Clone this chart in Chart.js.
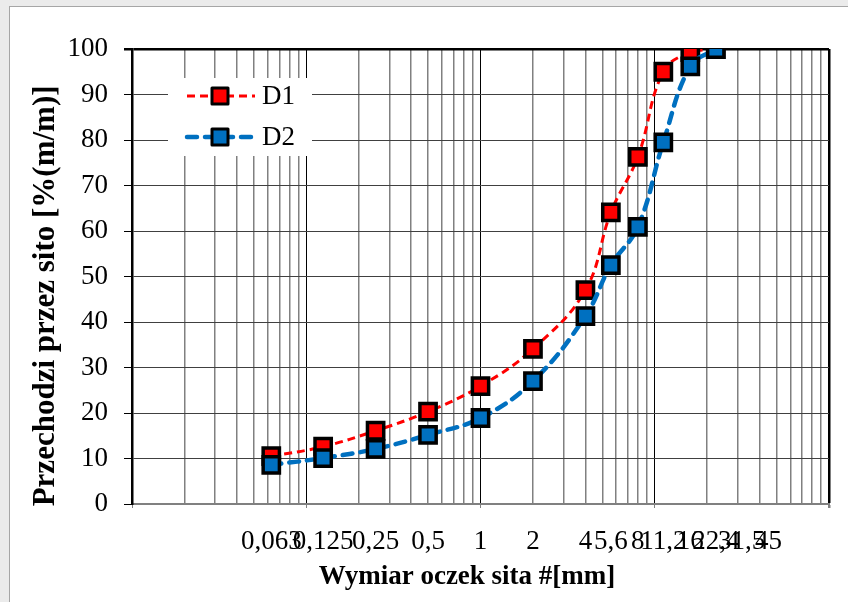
<!DOCTYPE html>
<html>
<head>
<meta charset="utf-8">
<script src="https://cdn.jsdelivr.net/npm/chart.js@4.4.1/dist/chart.umd.min.js"></script>
<style>
  html, body { margin: 0; padding: 0; background: #ebebeb; overflow: hidden; }
  #panel { position: absolute; left: 9px; top: 6px; width: 900px; height: 700px; background: #fff;
           border-left: 1px solid #a6a6a6; border-top: 1px solid #a6a6a6; }
  #grading { position: absolute; left: 0; top: 0; }
</style>
</head>
<body>
<div id="panel"></div>
<canvas id="grading" width="848" height="602"></canvas>
<script>
// sieve sizes [mm] and passing percentages
var sieveSizes = [0.063, 0.125, 0.25, 0.5, 1, 2, 4, 5.6, 8, 11.2, 16, 22.4];
var passD1 = [10.5, 12.6, 16.1, 20.3, 25.9, 34.1, 47.0, 64.1, 76.3, 95.0, 99.3, 100];
var passD2 = [8.6, 10.1, 12.1, 15.2, 18.9, 27.0, 41.3, 52.5, 60.9, 79.5, 96.2, 100];

// labels printed under the x axis
var xLabelValues = [0.063, 0.125, 0.25, 0.5, 1, 2, 4, 5.6, 8, 11.2, 16, 22.4, 31.5, 45];
var xLabelTexts = ['0,063', '0,125', '0,25', '0,5', '1', '2', '4', '5,6', '8', '11,2', '16', '22,4', '31,5', '45'];

var serif = '"Liberation Serif", "Times New Roman", serif';

// log grid lines 1..9 x each decade
var gridValues = [];
[0.01, 0.1, 1, 10].forEach(function (dec) {
    for (var k = 1; k < 10; k++) gridValues.push(+(dec * k).toPrecision(3));
});
gridValues.push(100);

function same(a, b) { return Math.abs(a / b - 1) < 1e-6; }
function isGrid(v) { return gridValues.some(function (g) { return same(g, v); }); }
function isDecade(v) { var l = Math.log10(v); return Math.abs(l - Math.round(l)) < 1e-6; }
function labelFor(v) {
    for (var i = 0; i < xLabelValues.length; i++) if (same(xLabelValues[i], v)) return xLabelTexts[i];
    return '';
}

var xTickValues = gridValues.slice();
xLabelValues.forEach(function (v) { if (!isGrid(v)) xTickValues.push(v); });
xTickValues.sort(function (a, b) { return a - b; });

function toPoints(ys) {
    return sieveSizes.map(function (x, i) { return { x: x, y: ys[i] }; });
}

var legendInside = {
    id: 'legendInside',
    afterDraw: function (chart) {
        var ctx = chart.ctx;
        ctx.save();
        ctx.fillStyle = '#fff';
        ctx.fillRect(168, 78, 144, 78);
        var rows = [96, 137];
        chart.data.datasets.forEach(function (ds, i) {
            var y = rows[i];
            ctx.setLineDash(ds.borderDash);
            ctx.lineWidth = ds.borderWidth;
            ctx.strokeStyle = ds.borderColor;
            ctx.lineCap = ds.borderCapStyle;
            ctx.beginPath();
            ctx.moveTo(187, y);
            ctx.lineTo(255, y);
            ctx.stroke();
            ctx.setLineDash([]);
            ctx.fillStyle = ds.pointBackgroundColor;
            ctx.strokeStyle = '#000';
            ctx.lineWidth = 3;
            ctx.lineJoin = 'round';
            ctx.fillRect(212, y - 8, 16, 16);
            ctx.strokeRect(212, y - 8, 16, 16);
            ctx.fillStyle = '#000';
            ctx.font = '27px ' + serif;
            ctx.textBaseline = 'middle';
            ctx.fillText(ds.label, 262, y + 1);
        });
        ctx.restore();
    }
};

var chart = new Chart(document.getElementById('grading').getContext('2d'), {
    type: 'line',
    data: {
        datasets: [
            {
                label: 'D1',
                data: toPoints(passD1),
                borderColor: '#ff0000',
                borderWidth: 3,
                borderDash: [8, 5],
                borderCapStyle: 'butt',
                pointStyle: 'rect',
                pointRadius: 11.5,
                pointBackgroundColor: '#ff0000',
                pointBorderColor: '#000',
                pointBorderWidth: 3.5,
                tension: 0.4,
                order: 1
            },
            {
                label: 'D2',
                data: toPoints(passD2),
                borderColor: '#0070c0',
                borderWidth: 4.5,
                borderDash: [10, 8],
                borderCapStyle: 'round',
                pointStyle: 'rect',
                pointRadius: 11.5,
                pointBackgroundColor: '#0070c0',
                pointBorderColor: '#000',
                pointBorderWidth: 3.5,
                tension: 0.4,
                order: 0
            }
        ]
    },
    options: {
        responsive: false,
        animation: false,
        layout: { padding: { left: 0, top: 49, right: 19, bottom: 0 } },
        plugins: {
            legend: { display: false },
            tooltip: { enabled: false }
        },
        scales: {
            x: {
                type: 'logarithmic',
                min: 0.01,
                max: 100,
                afterBuildTicks: function (scale) {
                    scale.ticks = xTickValues.map(function (v) { return { value: v }; });
                },
                afterFit: function (scale) { scale.height = 98; },
                border: { display: true, color: '#808080', width: 2 },
                grid: {
                    color: function (c) {
                        var v = c.tick ? c.tick.value : 0;
                        if (!isGrid(v)) return 'rgba(0,0,0,0)';
                        return isDecade(v) ? '#000' : '#808080';
                    },
                    lineWidth: function (c) {
                        var v = c.tick ? c.tick.value : 0;
                        if (same(v, 100)) return 2.5;
                        return isDecade(v) ? 1 : 1.5;
                    },
                    tickColor: function (c) {
                        var v = c.tick ? c.tick.value : 0;
                        return isGrid(v) && isDecade(v) ? '#808080' : 'rgba(0,0,0,0)';
                    },
                    tickLength: 4
                },
                ticks: {
                    autoSkip: false,
                    maxRotation: 0,
                    minRotation: 0,
                    padding: 18,
                    color: '#000',
                    font: { family: serif, size: 27, lineHeight: 1.2 },
                    callback: function (v) { return labelFor(v); }
                },
                title: {
                    display: true,
                    text: 'Wymiar oczek sita #[mm]    ',
                    color: '#000',
                    font: { family: serif, size: 27, weight: 'bold', lineHeight: 1 },
                    padding: { top: 0, bottom: 11 }
                }
            },
            y: {
                min: 0,
                max: 100,
                afterFit: function (scale) { scale.width = 132; },
                border: { display: true, color: '#000', width: 2.5 },
                grid: {
                    color: function (c) {
                        return c.tick && c.tick.value === 100 ? '#000' : '#404040';
                    },
                    lineWidth: function (c) {
                        return c.tick && c.tick.value === 100 ? 2.5 : 1;
                    },
                    tickColor: '#000',
                    tickLength: 8
                },
                ticks: {
                    stepSize: 10,
                    padding: 16,
                    color: '#000',
                    font: { family: serif, size: 27, lineHeight: 1 }
                },
                title: {
                    display: true,
                    text: 'Przechodzi przez sito [%(m/m)]     ',
                    color: '#000',
                    font: { family: serif, size: 31, weight: 'bold', lineHeight: 1 },
                    padding: { top: 30, bottom: 0 }
                }
            }
        }
    },
    plugins: [legendInside]
});
</script>
</body>
</html>
